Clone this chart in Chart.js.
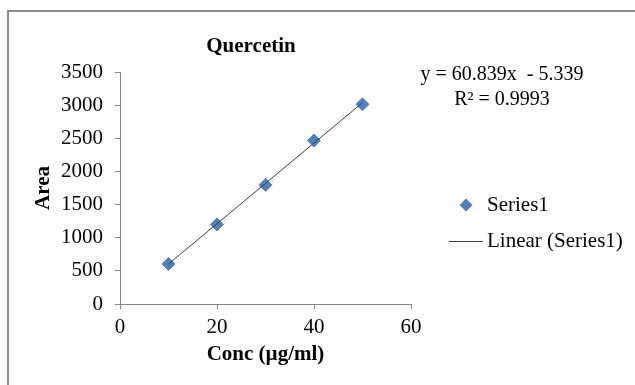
<!DOCTYPE html>
<html>
<head>
<meta charset="utf-8">
<script src="https://cdn.jsdelivr.net/npm/chart.js@4"></script>
<style>
html,body{margin:0;padding:0;background:#fff;}
canvas{display:block;}
</style>
</head>
<body>
<canvas id="c" width="635" height="385"></canvas>
<script>
// ---- data ----
const chartTitle = "Quercetin";
const concentrations = [10, 20, 30, 40, 50];
const areas = [604, 1200, 1797, 2465, 3012];
const trendX = [10, 50];
const trendY = [603, 3037];
const equationLines = ["y = 60.839x  - 5.339", "R\u00B2 = 0.9993"];
const seriesName = "Series1";
const trendName = "Linear (Series1)";
const xAxisTitle = "Conc (\u00B5g/ml)";
const yAxisTitle = "Area";
const xTicks = [0, 20, 40, 60];
const yTicks = [0, 500, 1000, 1500, 2000, 2500, 3000, 3500];

const FONT = "'Liberation Serif', 'Times New Roman', serif";
const MARK = "#4F81BD";
const AXIS = "#868686";
const TREND = "#404040";

const overlay = {
  id: 'overlay',
  beforeDraw(chart) {
    const ctx = chart.ctx;
    ctx.save();
    ctx.fillStyle = '#fff';
    ctx.fillRect(0, 0, chart.width, chart.height);
    ctx.strokeStyle = '#8c8c8c';
    ctx.lineWidth = 2;
    ctx.beginPath();
    ctx.moveTo(8, chart.height);
    ctx.lineTo(8, 11);
    ctx.lineTo(chart.width, 11);
    ctx.stroke();
    ctx.restore();
  },
  afterDraw(chart) {
    const ctx = chart.ctx;
    ctx.save();
    ctx.fillStyle = '#000';
    ctx.textBaseline = 'middle';
    // title
    ctx.font = "bold 21px " + FONT;
    ctx.textAlign = 'center';
    ctx.fillText(chartTitle, 251, 47);
    // equation
    ctx.font = "20px " + FONT;
    ctx.fillText(equationLines[0], 502, 75);
    ctx.fillText(equationLines[1], 502, 100);
    // legend
    ctx.font = "21px " + FONT;
    ctx.textAlign = 'left';
    ctx.fillStyle = MARK;
    ctx.beginPath();
    const r = 6.5, cx = 466, cy = 205;
    ctx.moveTo(cx, cy - r); ctx.lineTo(cx + r, cy); ctx.lineTo(cx, cy + r); ctx.lineTo(cx - r, cy); ctx.closePath();
    ctx.fill();
    ctx.fillStyle = '#000';
    ctx.fillText(seriesName, 487, 205);
    ctx.strokeStyle = TREND;
    ctx.lineWidth = 1;
    ctx.beginPath();
    ctx.moveTo(449, 241.5); ctx.lineTo(483, 241.5);
    ctx.stroke();
    ctx.fillText(trendName, 487, 241);
    ctx.restore();
  }
};

new Chart(document.getElementById('c'), {
  type: 'scatter',
  data: {
    datasets: [
      {
        label: trendName,
        type: 'line',
        data: trendX.map((x, i) => ({x: x, y: trendY[i]})),
        borderColor: TREND,
        borderWidth: 1,
        pointRadius: 0,
        fill: false,
        order: 0
      },
      {
        label: seriesName,
        data: concentrations.map((x, i) => ({x: x, y: areas[i]})),
        pointStyle: 'rectRot',
        pointRadius: 6.5,
        pointHoverRadius: 6.5,
        backgroundColor: MARK,
        borderColor: MARK,
        borderWidth: 1,
        showLine: false,
        order: 1
      }
    ]
  },
  options: {
    responsive: false,
    animation: false,
    events: [],
    layout: { padding: { left: 0, right: 224, top: 72, bottom: 0 } },
    plugins: { legend: { display: false }, tooltip: { enabled: false }, title: { display: false } },
    scales: {
      x: {
        type: 'linear',
        min: 0, max: 60,
        afterBuildTicks: (s) => { s.ticks = xTicks.map(v => ({value: v})); },
        afterFit: (s) => { s.height = 81; },
        grid: { drawOnChartArea: false, drawTicks: true, tickLength: 5, color: AXIS },
        border: { display: true, color: AXIS, width: 1 },
        ticks: { color: '#000', font: { family: FONT, size: 21 }, padding: 6, maxRotation: 0, callback: (v) => String(v) },
        title: { display: true, text: xAxisTitle, color: '#000', font: { family: FONT, size: 21, weight: 'bold' }, padding: { top: 0, bottom: 18 } }
      },
      y: {
        type: 'linear',
        min: 0, max: 3500,
        afterBuildTicks: (s) => { s.ticks = yTicks.map(v => ({value: v})); },
        afterFit: (s) => { s.width = 120; },
        grid: { drawOnChartArea: false, drawTicks: true, tickLength: 5, color: AXIS },
        border: { display: true, color: AXIS, width: 1 },
        ticks: { color: '#000', font: { family: FONT, size: 21 }, padding: 12, callback: (v) => String(v) },
        title: { display: true, text: yAxisTitle, color: '#000', font: { family: FONT, size: 21, weight: 'bold' }, padding: { top: 31, bottom: 0 } }
      }
    }
  },
  plugins: [overlay]
});
</script>
</body>
</html>
